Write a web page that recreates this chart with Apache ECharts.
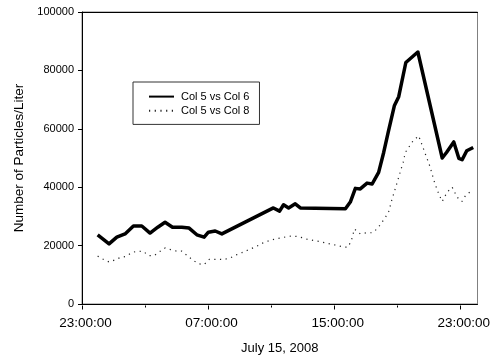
<!DOCTYPE html>
<html>
<head>
<meta charset="utf-8">
<script src="https://cdn.jsdelivr.net/npm/echarts@6/dist/echarts.min.js"></script>
<style>
  html, body { margin: 0; padding: 0; background: #fff; }
  #chart { width: 493px; height: 360px; }
</style>
</head>
<body>
<div id="chart"></div>
<script>
// Hours elapsed since 23:00 on July 14, and particle counts per liter.
var col6Hours = [0.99, 1.71, 2.2, 2.72, 3.25, 3.78, 4.3, 4.79, 5.25, 5.72, 6.31, 6.77, 7.26, 7.72, 7.99, 8.42, 8.84,
  12.1, 12.49, 12.74, 13.06, 13.48, 13.8, 16.65, 16.96, 17.28, 17.59, 18.02, 18.34, 18.75, 19.07, 19.35, 19.75,
  20.02, 20.47, 21.23, 22.77, 23.04, 23.5, 23.82, 24.03, 24.32, 24.73];
var col6Values = [23700, 20600, 22900, 24000, 26700, 26700, 24300, 26300, 28000, 26300, 26300, 26000, 23700, 22900, 24600, 25000, 24000,
  32900, 31800, 34000, 32900, 34300, 32900, 32600, 34900, 39600, 39400, 41400, 41100, 45100, 51900, 58700, 68000,
  71000, 82700, 86300, 50000, 51900, 55500, 49900, 49400, 52500, 53600];

var col8Hours = [0.99, 1.35, 1.71, 2.09, 2.41, 2.77, 3.15, 3.5, 3.88, 4.2, 4.56, 4.87, 5.25, 5.61, 5.99, 6.31, 6.69, 7.04,
  7.36, 7.72, 8.04, 8.42, 8.73, 8.94, 9.37, 9.79, 10.11, 10.42, 10.84, 11.16, 11.47, 11.9, 12.22, 12.64, 12.96,
  13.27, 13.63, 14.0, 14.32, 14.64, 15.02, 15.38, 15.8, 16.12, 16.5, 16.82, 17.03, 17.22, 17.59, 17.97, 18.34,
  18.65, 18.9, 19.18, 19.39, 19.6, 19.81, 20.02, 20.17, 20.3, 20.44, 20.93, 21.28, 21.44, 21.71, 21.98, 22.28,
  22.55, 22.77, 23.08, 23.4, 23.71, 24.02, 24.24, 24.51];
var col8Values = [16400, 15300, 14400, 15100, 15900, 16300, 17600, 18100, 18000, 16600, 16600, 17800, 19200, 18600, 18100, 18100, 16400, 14900,
  13800, 13500, 15300, 15300, 15300, 15200, 15800, 16900, 17600, 18300, 19300, 20100, 21000, 21800, 22300, 22700, 23100,
  23300, 23100, 22600, 22000, 21800, 21400, 20900, 20400, 20100, 19500, 19500, 21800, 25700, 24000, 24400, 24400,
  25700, 27500, 29700, 31700, 36000, 39600, 43400, 46200, 48500, 51900, 55900, 57600, 55300, 51300, 47300, 41700,
  37700, 35100, 38300, 40000, 36600, 35100, 37100, 38300];

var tickHours = [0, 8, 16, 24];
var tickLabels = ['23:00:00', '07:00:00', '15:00:00', '23:00:00'];

function pairs(xs, ys) {
  return xs.map(function (x, i) { return [x, ys[i]]; });
}

var font = 'Liberation Sans, Arial, sans-serif';
var chart = echarts.init(document.getElementById('chart'), null, { renderer: 'canvas' });

chart.setOption({
  animation: false,
  backgroundColor: '#fff',
  textStyle: { fontFamily: font, color: '#000' },
  grid: [
    { left: 82, right: 15.5, top: 12, bottom: 54.5, show: true, borderColor: '#808080', borderWidth: 1, backgroundColor: 'transparent' },
    { left: 82, width: 379.3, top: 12, bottom: 54.5 }
  ],
  legend: {
    orient: 'vertical',
    left: 133,
    top: 82,
    padding: [9, 10, 8, 15],
    itemGap: 3,
    itemWidth: 25,
    itemHeight: 14,
    borderColor: '#333',
    borderWidth: 1,
    backgroundColor: '#fff',
    itemStyle: { opacity: 0 },
    textStyle: { fontFamily: font, fontSize: 11, color: '#000', padding: [0, 0, 0, 2] },
    data: ['Col 5 vs Col 6', 'Col 5 vs Col 8']
  },
  xAxis: [
    {
      type: 'value', gridIndex: 0, min: 0, max: 25,
      axisLine: { show: true, lineStyle: { color: '#000', width: 1 } },
      axisTick: { show: false }, axisLabel: { show: false }, splitLine: { show: false },
      name: 'July 15, 2008', nameLocation: 'middle', nameGap: 38,
      nameTextStyle: { fontFamily: font, fontSize: 13, color: '#000' }
    },
    {
      type: 'value', gridIndex: 0, position: 'top', min: 0, max: 25,
      axisLine: { show: true, lineStyle: { color: '#000', width: 1 } },
      axisTick: { show: false }, axisLabel: { show: false }, splitLine: { show: false }
    },
    {
      type: 'value', gridIndex: 1, min: 0, max: 24, interval: 8,
      axisLine: { show: false },
      axisTick: { show: true, length: 4, lineStyle: { color: '#000' } },
      minorTick: { show: true, splitNumber: 2, length: 2, lineStyle: { color: '#000' } },
      splitLine: { show: false },
      axisLabel: {
        fontFamily: font, fontSize: 13.5, color: '#000', margin: 11, padding: [0, 0, 0, 7],
        formatter: function (v) {
          var i = tickHours.indexOf(v);
          return i >= 0 ? tickLabels[i] : '';
        }
      }
    }
  ],
  yAxis: [
    {
      type: 'value', gridIndex: 0, min: 0, max: 100000, interval: 20000,
      axisLine: { show: true, lineStyle: { color: '#000', width: 1 } },
      axisTick: { show: true, length: 4, lineStyle: { color: '#000' } },
      splitLine: { show: false },
      axisLabel: {
        fontFamily: font, fontSize: 11, color: '#000', margin: 8,
        formatter: function (v) { return String(v); }
      },
      name: 'Number of Particles/Liter', nameLocation: 'middle', nameGap: 56,
      nameTextStyle: { fontFamily: font, fontSize: 13.5, color: '#000' }
    },
    { type: 'value', gridIndex: 1, min: 0, max: 100000, show: false }
  ],
  series: [
    {
      name: 'Col 5 vs Col 6', type: 'line', xAxisIndex: 0, yAxisIndex: 0,
      symbol: 'none', smooth: false,
      lineStyle: { color: '#000', width: 3.5, join: 'round' },
      itemStyle: { color: '#000' },
      data: pairs(col6Hours, col6Values)
    },
    {
      name: 'Col 5 vs Col 8', type: 'line', xAxisIndex: 0, yAxisIndex: 0,
      symbol: 'none', smooth: false,
      lineStyle: { color: '#222', width: 1.2, type: [1.2, 4.5], cap: 'butt' },
      itemStyle: { color: '#222' },
      data: pairs(col8Hours, col8Values)
    }
  ]
});
</script>
</body>
</html>
